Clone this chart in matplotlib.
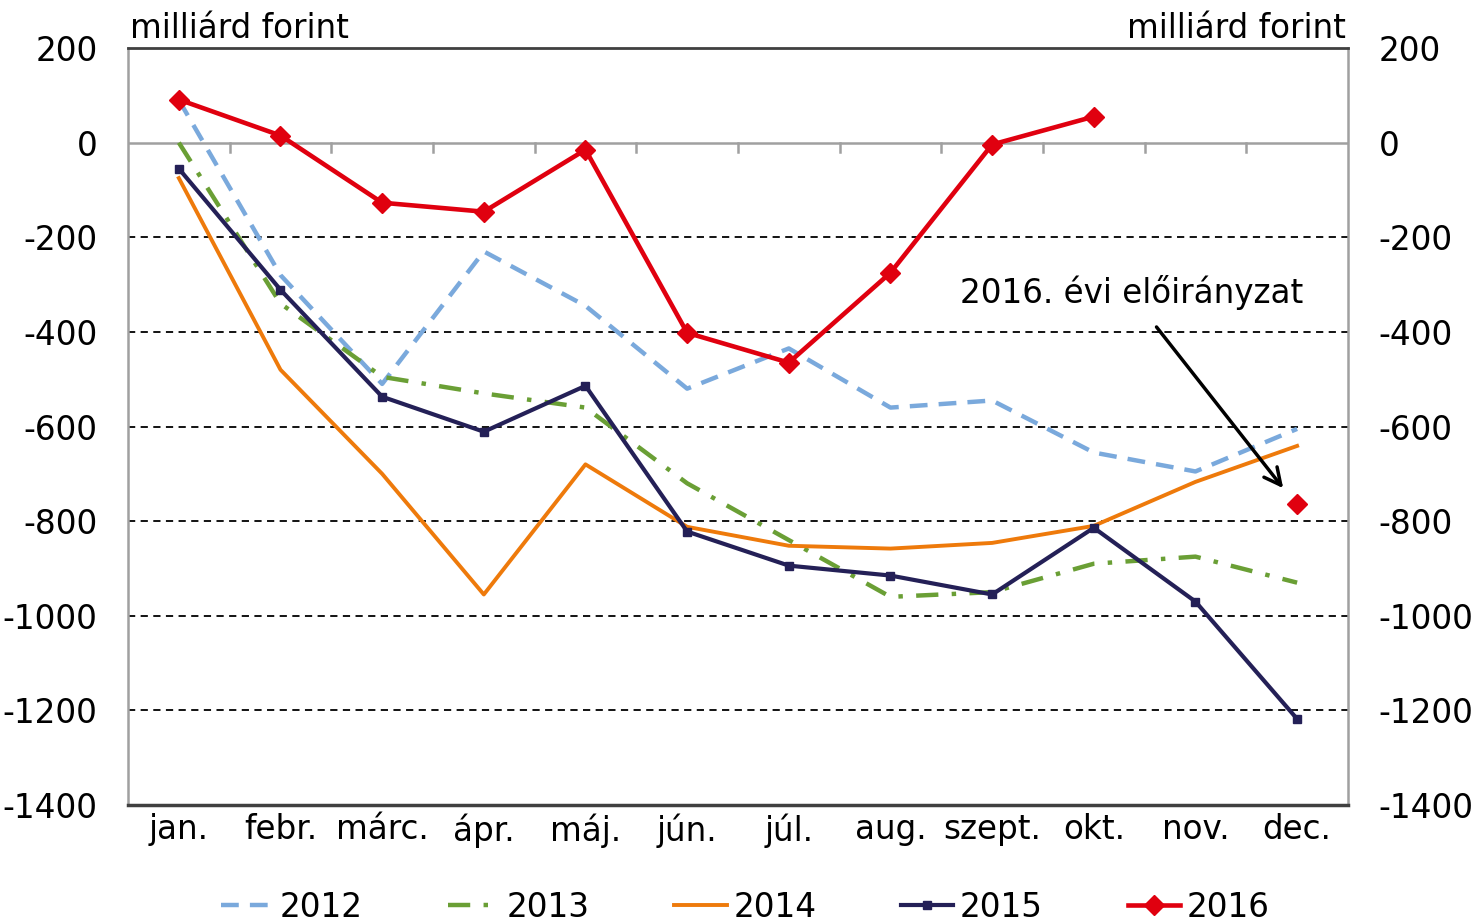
import numpy as np
import matplotlib
matplotlib.use("Agg")
from matplotlib import pyplot as plt

plt.rcParams["font.family"] = ["DejaVu Sans"]
plt.rcParams["axes.unicode_minus"] = False

months = ["jan.", "febr.", "márc.", "ápr.", "máj.", "jún.", "júl.", "aug.", "szept.", "okt.", "nov.", "dec."]

y2012 = [90, -280, -510, -230, -345, -520, -435, -560, -545, -655, -695, -605]
y2013 = [0, -340, -495, -530, -560, -720, -840, -960, -950, -890, -875, -930]
y2014 = [-75, -480, -700, -955, -680, -812, -852, -858, -846, -810, -717, -641]
y2015 = [-55, -311, -537, -611, -514, -822, -894, -915, -955, -814, -970, -1218]
y2016 = [91, 15, -127, -146, -15, -402, -465, -275, -4, 55, np.nan, -763]   # dec = előirányzat

x = np.arange(len(months))
FS = 23.5

fig = plt.figure(figsize=(14.73, 9.23), dpi=100)
ax = fig.add_axes([0.0869, 0.1278, 0.8282, 0.8202])

# dashed grid lines (no line at 0, that's the category axis)
for g in [-200, -400, -600, -800, -1000, -1200]:
    ax.axhline(g, color="black", lw=1.3, ls=(0, (4, 3)), zorder=1)
ax.axhline(0, color="#a0a0a0", lw=1.8, zorder=1)
for b in np.arange(0.5, 11.5, 1):
    ax.plot([b, b], [0, -20], color="#a0a0a0", lw=1.8, zorder=1)

ax.plot(x, y2012, color="#7aa9dc", lw=3.2, ls=(0, (4, 2.5)), label="2012", zorder=3)
ax.plot(x, y2013, color="#6a9f35", lw=3.2, ls=(0, (5, 3, 1, 3)), label="2013", zorder=3)
ax.plot(x, y2014, color="#ee7a0b", lw=2.8, label="2014", zorder=3)
ax.plot(x, y2015, color="#242057", lw=3, marker="s", ms=6, label="2015", zorder=4)
ax.plot(x, y2016, color="#e0000f", lw=3.3, marker="D", ms=10, label="2016", zorder=5)

ax.set_xlim(-0.5, 11.5)
ax.set_ylim(-1400, 200)
ax.set_yticks(range(-1400, 201, 200))
ax.set_xticks(x)
ax.set_xticklabels(months)
ax.tick_params(axis="x", length=0, pad=6, labelsize=FS)
ax.tick_params(axis="y", length=0, pad=22, labelsize=FS)

ax.spines["top"].set_color("#404040")
ax.spines["top"].set_linewidth(2)
ax.spines["bottom"].set_color("#404040")
ax.spines["bottom"].set_linewidth(2.5)
ax.spines["left"].set_color("#a0a0a0")
ax.spines["left"].set_linewidth(1.8)
ax.spines["right"].set_color("#a0a0a0")
ax.spines["right"].set_linewidth(1.8)

ax2 = ax.twinx()
ax2.set_ylim(ax.get_ylim())
ax2.set_yticks(range(-1400, 201, 200))
ax2.tick_params(axis="y", length=0, pad=22, labelsize=FS)
for s in ax2.spines.values():
    s.set_visible(False)

ax.text(0.002, 1.013, "milliárd forint", transform=ax.transAxes, ha="left", va="baseline", fontsize=FS)
ax.text(0.998, 1.013, "milliárd forint", transform=ax.transAxes, ha="right", va="baseline", fontsize=FS)

ax.annotate("", xy=(10.88, -735), xytext=(9.6, -385),
            arrowprops=dict(arrowstyle="->", color="black", lw=2.5, mutation_scale=30))
ax.text(9.375, -317, "2016. évi előirányzat", ha="center", va="center", fontsize=FS)

fig.legend(loc="center", ncol=5, frameon=False, fontsize=FS, handlelength=1.6,
           columnspacing=2.6, handletextpad=0.2, bbox_to_anchor=(0.506, 0.017))

fig.savefig("out.png", dpi=100)
